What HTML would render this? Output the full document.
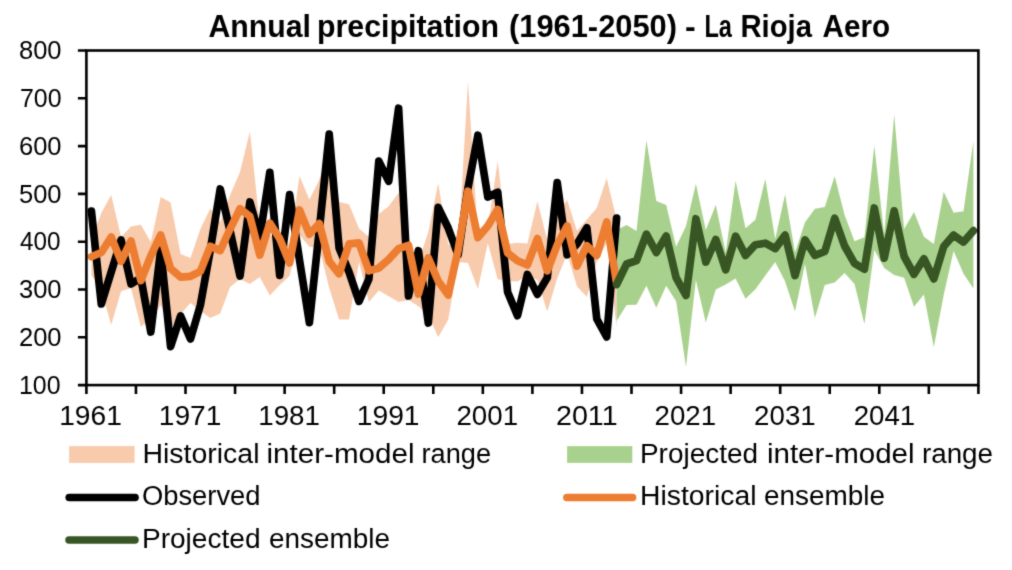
<!DOCTYPE html>
<html><head><meta charset="utf-8"><title>Annual precipitation</title>
<style>
html,body{margin:0;padding:0;background:#fff;}
body{width:1012px;height:570px;overflow:hidden;}
svg{display:block;will-change:transform;}
text{font-family:"Liberation Sans",sans-serif;fill:#000;}
.tt{font-weight:bold;font-size:30.8px;}
.yl{font-size:25.6px;}
.xl{font-size:27.6px;}
.lg{font-size:28.2px;}
</style></head>
<body>
<svg width="1012" height="570" viewBox="0 0 1012 570">
<defs><filter id="bl" x="0" y="0" width="1012" height="570" filterUnits="userSpaceOnUse" color-interpolation-filters="sRGB"><feConvolveMatrix order="3" kernelMatrix="0.01917 0.10012 0.01917 0.10012 0.52283 0.10012 0.01917 0.10012 0.01917" edgeMode="duplicate"/></filter></defs>
<g filter="url(#bl)">
<rect width="1012" height="570" fill="#fff"/>
<polygon points="91.4,240.0 101.3,213.0 111.2,195.0 121.1,237.0 131.0,226.5 140.9,224.7 150.8,242.0 160.7,197.0 170.6,202.5 180.6,254.0 190.5,258.0 200.4,229.0 210.3,208.5 220.2,222.0 230.1,195.0 240.0,172.0 249.9,131.6 259.8,225.0 269.8,235.0 279.7,240.0 289.6,245.0 299.5,176.0 309.4,199.5 319.3,180.0 329.2,150.0 339.1,202.0 349.0,204.3 359.0,228.4 368.9,237.1 378.8,214.0 388.7,206.2 398.6,192.7 408.5,255.0 418.4,262.0 428.3,232.0 438.2,183.3 448.2,244.0 458.1,252.0 468.0,81.0 477.9,236.0 487.8,228.0 497.7,161.1 507.6,244.0 517.5,242.7 527.4,243.6 537.4,201.2 547.3,240.0 557.2,215.0 567.1,199.8 577.0,231.0 586.9,219.5 596.8,208.0 606.7,178.0 616.6,219.5 616.6,327.0 606.7,243.0 596.8,262.0 586.9,297.0 577.0,286.3 567.1,254.0 557.2,278.6 547.3,311.4 537.4,280.0 527.4,275.0 517.5,281.5 507.6,281.0 497.7,279.3 487.8,243.0 477.9,289.0 468.0,263.0 458.1,262.0 448.2,319.8 438.2,337.2 428.3,315.0 418.4,306.3 408.5,300.0 398.6,302.0 388.7,296.2 378.8,290.4 368.9,302.0 359.0,262.0 349.0,319.4 339.1,319.4 329.2,288.0 319.3,248.0 309.4,246.8 299.5,235.0 289.6,276.0 279.7,285.0 269.8,295.6 259.8,277.0 249.9,284.0 240.0,279.0 230.1,287.0 220.2,313.5 210.3,318.0 200.4,311.0 190.5,303.0 180.6,314.0 170.6,328.0 160.7,305.0 150.8,318.0 140.9,327.0 131.0,288.0 121.1,291.2 111.2,325.0 101.3,290.0 91.4,275.0" fill="#F8CBAD"/>
<polygon points="616.6,230.0 626.6,225.0 636.5,231.0 646.4,140.3 656.3,201.0 666.2,205.0 676.1,246.7 686.0,226.0 695.9,183.7 705.8,230.0 715.8,205.0 725.7,252.5 735.6,180.8 745.5,228.3 755.4,219.7 765.3,178.9 775.2,239.0 785.1,194.3 795.0,252.5 805.0,222.3 814.9,208.8 824.8,206.9 834.7,176.3 844.6,215.0 854.5,241.2 864.4,237.3 874.3,145.4 884.2,234.4 894.2,114.5 904.1,229.0 914.0,212.0 923.9,236.8 933.8,243.9 943.7,191.8 953.6,212.7 963.5,211.3 973.4,141.0 973.4,288.6 963.5,273.7 953.6,250.9 943.7,295.0 933.8,347.2 923.9,294.6 914.0,306.7 904.1,277.7 894.2,275.0 884.2,268.0 874.3,250.0 864.4,324.0 854.5,284.0 844.6,273.0 834.7,282.5 824.8,284.9 814.9,318.1 805.0,264.0 795.0,311.4 785.1,281.4 775.2,262.1 765.3,275.6 755.4,289.2 745.5,298.8 735.6,278.5 725.7,284.5 715.8,289.5 705.8,322.5 695.9,280.0 686.0,366.9 676.1,301.2 666.2,285.8 656.3,307.8 646.4,285.8 636.5,304.7 626.6,305.0 616.6,321.0" fill="#A9D18E"/>
<polyline points="91.4,211.0 101.3,304.0 111.2,272.0 121.1,240.0 131.0,284.0 140.9,278.0 150.8,332.0 160.7,250.0 170.6,346.6 180.6,316.0 190.5,339.0 200.4,305.0 210.3,250.0 220.2,189.0 230.1,231.0 240.0,276.0 249.9,202.0 259.8,237.0 269.8,172.4 279.7,275.3 289.6,194.6 299.5,260.0 309.4,322.7 319.3,230.0 329.2,134.2 339.1,248.0 349.0,272.0 359.0,301.4 368.9,279.0 378.8,161.2 388.7,181.3 398.6,108.2 408.5,296.0 418.4,250.7 428.3,323.0 438.2,207.3 448.2,228.0 458.1,255.0 468.0,188.0 477.9,135.2 487.8,197.0 497.7,192.2 507.6,292.0 517.5,315.7 527.4,274.4 537.4,294.4 547.3,277.6 557.2,182.5 567.1,254.8 577.0,244.0 586.9,227.8 596.8,319.0 606.7,337.0 616.6,218.0" fill="none" stroke="#000" stroke-width="7.7" stroke-linejoin="round" stroke-linecap="round"/>
<polyline points="91.4,256.7 101.3,252.5 111.2,237.0 121.1,261.3 131.0,241.0 140.9,280.5 150.8,256.0 160.7,235.0 170.6,268.5 180.6,277.2 190.5,276.3 200.4,271.4 210.3,246.3 220.2,250.6 230.1,229.0 240.0,208.7 249.9,216.4 259.8,255.0 269.8,223.2 279.7,238.6 289.6,263.0 299.5,210.0 309.4,234.2 319.3,223.6 329.2,261.3 339.1,273.8 349.0,243.9 359.0,242.9 368.9,270.9 378.8,268.0 388.7,259.3 398.6,248.7 408.5,245.3 418.4,294.0 428.3,258.0 438.2,281.0 448.2,295.0 458.1,250.0 468.0,191.2 477.9,237.6 487.8,226.0 497.7,209.6 507.6,253.0 517.5,260.7 527.4,265.0 537.4,238.5 547.3,270.9 557.2,245.0 567.1,226.0 577.0,266.0 586.9,245.8 596.8,255.4 606.7,222.0 616.6,283.0" fill="none" stroke="#ED7D31" stroke-width="7.7" stroke-linejoin="round" stroke-linecap="round"/>
<polyline points="616.6,284.5 626.6,264.0 636.5,260.6 646.4,234.1 656.3,252.5 666.2,236.0 676.1,277.6 686.0,295.5 695.9,218.7 705.8,262.1 715.8,239.5 725.7,269.8 735.6,236.1 745.5,255.4 755.4,244.7 765.3,243.2 775.2,248.6 785.1,235.1 795.0,275.6 805.0,239.9 814.9,255.4 824.8,251.5 834.7,218.3 844.6,246.0 854.5,263.4 864.4,269.2 874.3,208.0 884.2,258.2 894.2,210.8 904.1,256.3 914.0,274.3 923.9,258.7 933.8,278.9 943.7,246.6 953.6,235.1 963.5,242.1 973.4,230.7" fill="none" stroke="#375623" stroke-width="7.7" stroke-linejoin="round" stroke-linecap="round"/>
<rect x="86.4" y="50.5" width="892.0" height="334.6" fill="none" stroke="#000" stroke-width="2.6"/>
<path d="M77.9,50.50H86.4 M77.9,98.30H86.4 M77.9,146.10H86.4 M77.9,193.90H86.4 M77.9,241.70H86.4 M77.9,289.50H86.4 M77.9,337.30H86.4 M77.9,385.10H86.4 M86.40,385.1V394.1 M135.96,385.1V394.1 M185.51,385.1V394.1 M235.07,385.1V394.1 M284.62,385.1V394.1 M334.18,385.1V394.1 M383.73,385.1V394.1 M433.29,385.1V394.1 M482.84,385.1V394.1 M532.40,385.1V394.1 M581.96,385.1V394.1 M631.51,385.1V394.1 M681.07,385.1V394.1 M730.62,385.1V394.1 M780.18,385.1V394.1 M829.73,385.1V394.1 M879.29,385.1V394.1 M928.84,385.1V394.1 M978.40,385.1V394.1" stroke="#000" stroke-width="2.6" fill="none"/>
<text x="18.94" y="59.2" class="yl" textLength="42.58" lengthAdjust="spacingAndGlyphs">800</text>
<text x="19.96" y="107.0" class="yl" textLength="41.57" lengthAdjust="spacingAndGlyphs">700</text>
<text x="18.94" y="154.8" class="yl" textLength="42.58" lengthAdjust="spacingAndGlyphs">600</text>
<text x="18.94" y="202.6" class="yl" textLength="42.58" lengthAdjust="spacingAndGlyphs">500</text>
<text x="20.00" y="250.4" class="yl" textLength="40.51" lengthAdjust="spacingAndGlyphs">400</text>
<text x="18.94" y="298.2" class="yl" textLength="42.58" lengthAdjust="spacingAndGlyphs">300</text>
<text x="18.94" y="346.0" class="yl" textLength="42.58" lengthAdjust="spacingAndGlyphs">200</text>
<text x="18.93" y="393.8" class="yl" textLength="41.59" lengthAdjust="spacingAndGlyphs">100</text>
<text x="59.20" y="425.1" class="xl" textLength="62.65" lengthAdjust="spacingAndGlyphs">1961</text>
<text x="158.76" y="425.1" class="xl" textLength="62.64" lengthAdjust="spacingAndGlyphs">1971</text>
<text x="258.29" y="425.1" class="xl" textLength="61.65" lengthAdjust="spacingAndGlyphs">1981</text>
<text x="356.82" y="425.1" class="xl" textLength="62.70" lengthAdjust="spacingAndGlyphs">1991</text>
<text x="456.46" y="425.1" class="xl" textLength="61.59" lengthAdjust="spacingAndGlyphs">2001</text>
<text x="556.00" y="425.1" class="xl" textLength="61.59" lengthAdjust="spacingAndGlyphs">2011</text>
<text x="654.56" y="425.1" class="xl" textLength="61.59" lengthAdjust="spacingAndGlyphs">2021</text>
<text x="754.10" y="425.1" class="xl" textLength="61.58" lengthAdjust="spacingAndGlyphs">2031</text>
<text x="853.67" y="425.1" class="xl" textLength="61.58" lengthAdjust="spacingAndGlyphs">2041</text>
<rect x="69.1" y="446.1" width="65.5" height="16.8" fill="#F8CBAD"/>
<rect x="567.1" y="446.1" width="65.2" height="16.8" fill="#A9D18E"/>
<path d="M69.2,497.4H135.1" stroke="#000" stroke-width="7.5" stroke-linecap="round"/>
<path d="M566.8,497.4H632.6" stroke="#ED7D31" stroke-width="7.5" stroke-linecap="round"/>
<path d="M69.0,540H135.0" stroke="#375623" stroke-width="7.5" stroke-linecap="round"/>
<text x="208.48" y="37" class="tt" textLength="102.57" lengthAdjust="spacingAndGlyphs">Annual</text>
<text x="316.96" y="37" class="tt" textLength="182.05" lengthAdjust="spacingAndGlyphs">precipitation</text>
<text x="508.98" y="37" class="tt" textLength="168.05" lengthAdjust="spacingAndGlyphs">(1961-2050)</text>
<text x="684.95" y="37" class="tt" textLength="10.71" lengthAdjust="spacingAndGlyphs">-</text>
<text x="704.46" y="37" class="tt" textLength="27.54" lengthAdjust="spacingAndGlyphs">La</text>
<text x="740.46" y="37" class="tt" textLength="71.53" lengthAdjust="spacingAndGlyphs">Rioja</text>
<text x="822.47" y="37" class="tt" textLength="67.58" lengthAdjust="spacingAndGlyphs">Aero</text>
<text x="142.44" y="463.0" class="lg" textLength="117.08" lengthAdjust="spacingAndGlyphs">Historical</text>
<text x="266.48" y="463.0" class="lg" textLength="148.06" lengthAdjust="spacingAndGlyphs">inter-model</text>
<text x="421.47" y="463.0" class="lg" textLength="69.58" lengthAdjust="spacingAndGlyphs">range</text>
<text x="639.96" y="463.0" class="lg" textLength="118.09" lengthAdjust="spacingAndGlyphs">Projected</text>
<text x="766.97" y="463.0" class="lg" textLength="147.56" lengthAdjust="spacingAndGlyphs">inter-model</text>
<text x="921.93" y="463.0" class="lg" textLength="71.13" lengthAdjust="spacingAndGlyphs">range</text>
<text x="141.97" y="505.2" class="lg" textLength="118.54" lengthAdjust="spacingAndGlyphs">Observed</text>
<text x="639.94" y="505.2" class="lg" textLength="116.63" lengthAdjust="spacingAndGlyphs">Historical</text>
<text x="764.00" y="505.2" class="lg" textLength="121.03" lengthAdjust="spacingAndGlyphs">ensemble</text>
<text x="141.92" y="548.2" class="lg" textLength="118.64" lengthAdjust="spacingAndGlyphs">Projected</text>
<text x="268.99" y="548.2" class="lg" textLength="121.04" lengthAdjust="spacingAndGlyphs">ensemble</text>
</g>
</svg>
</body></html>
